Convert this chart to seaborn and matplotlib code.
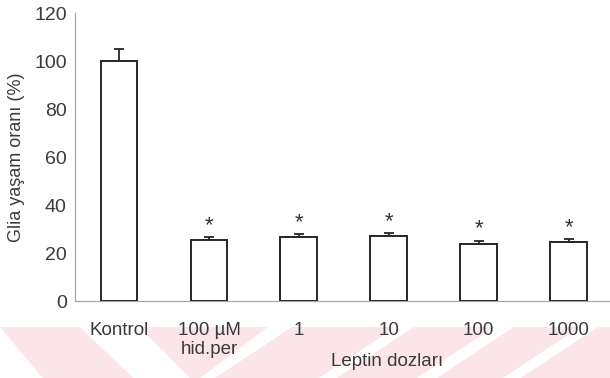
import matplotlib
matplotlib.use("Agg")
import matplotlib.pyplot as plt
from matplotlib.patches import Polygon
import seaborn as sns
import pandas as pd

# Glia survival (%) per treatment group, mean and upper SEM
groups = ["Kontrol", "100 µM\nhid.per", "1", "10", "100", "1000"]
survival = [100.0, 25.3, 26.5, 26.9, 23.9, 24.6]
sem = [5.2, 1.2, 1.3, 1.3, 1.1, 1.1]
significant = [False, True, True, True, True, True]
y_ticks = [0, 20, 40, 60, 80, 100, 120]

sns.set_style("white")
plt.rcParams["font.family"] = ["Liberation Sans", "DejaVu Sans"]

W, H = 610, 378
fig = plt.figure(figsize=(W / 100, H / 100), dpi=100)

# faint pink watermark bands along the bottom edge, on a background layer
bg = fig.add_axes([0, 0, 1, 1], zorder=-5)
bg.set_xlim(0, W)
bg.set_ylim(H, 0)
bg.axis("off")
pink = "#fce5e8"
bands = [
    [(0, 327), (80, 327), (133, 378), (43, 378)],
    [(140, 327), (268, 327), (200, 378), (190, 378)],
    [(292, 327), (396, 327), (319, 378), (215, 378)],
    [(414, 327), (494, 327), (417, 378), (337, 378)],
    [(514, 327), (580, 327), (503, 378), (437, 378)],
    [(598, 327), (700, 327), (623, 378), (521, 378)],
]
for b in bands:
    bg.add_patch(Polygon(b, closed=True, facecolor=pink, edgecolor="none"))

ax = fig.add_axes([75 / W, 1 - 301 / H, 535 / W, (301 - 13) / H], zorder=1)
ax.set_facecolor("none")

df = pd.DataFrame({"group": groups, "survival": survival})
sns.barplot(data=df, x="group", y="survival", order=groups, ax=ax,
            color="white", edgecolor="#2a2426", linewidth=1.4,
            width=0.41, errorbar=None, zorder=3)

xs = list(range(len(groups)))
ax.errorbar(xs, survival, yerr=[[0] * len(sem), sem], fmt="none",
            ecolor="#2a2426", elinewidth=1.3, capsize=3.5, capthick=1.3,
            zorder=2)

for x, m, e, s in zip(xs, survival, sem, significant):
    if s:
        ax.annotate("*", (x, m + e), xytext=(0, 1), textcoords="offset points",
                    ha="center", va="bottom", fontsize=16, color="#333333")

ax.set_xlim(-0.49, 5.46)
ax.set_ylim(0, 120)
ax.set_yticks(y_ticks)
ax.set_yticklabels([str(t) for t in y_ticks])

for side in ("top", "right"):
    ax.spines[side].set_visible(False)
for side in ("left", "bottom"):
    ax.spines[side].set_color("#a8a8a8")
    ax.spines[side].set_linewidth(0.9)

ax.tick_params(axis="y", length=3, width=0.8, color="#a8a8a8",
               labelsize=14, labelcolor="#3a3a3a", pad=3)
ax.tick_params(axis="x", length=0, labelsize=13.5, labelcolor="#3a3a3a", pad=15)

ax.set_xlabel("")
ax.set_ylabel("")
fig.text(17 / W, 1 - 157 / H, "Glia yaşam oranı (%)", rotation=90,
         ha="center", va="center", fontsize=13, color="#3a3a3a")
fig.text(387 / W, 1 - 362 / H, "Leptin dozları", ha="center", va="center",
         fontsize=13.5, color="#3a3a3a")

fig.savefig("out.png", dpi=100)
